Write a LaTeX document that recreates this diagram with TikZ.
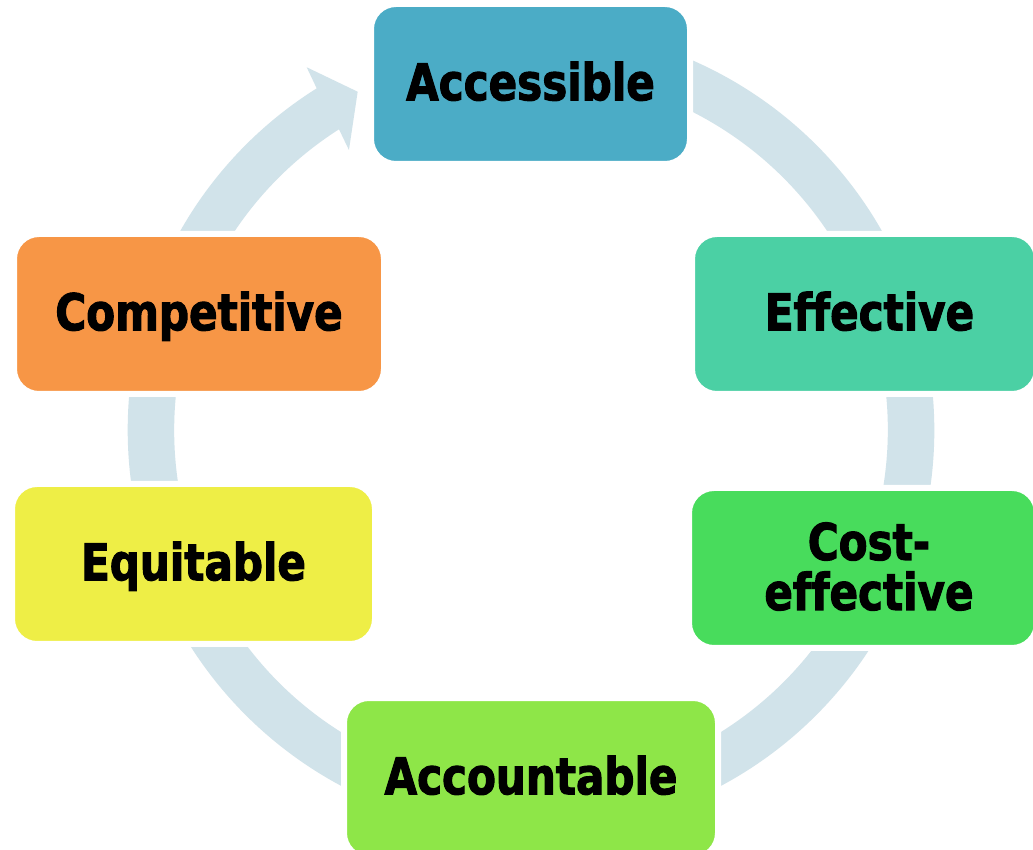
\documentclass[tikz,border=0pt]{standalone}
\usepackage{fontspec}
\newfontfamily\boxfont[FakeStretch=0.83,FakeBold=2,Ligatures=NoCommon]{DejaVu Sans}
\definecolor{ringc}{HTML}{D1E3EA}
\definecolor{cAcc}{HTML}{4BACC6}
\definecolor{cEff}{HTML}{4BD0A4}
\definecolor{cCost}{HTML}{48DC5C}
\definecolor{cAcct}{HTML}{8EE648}
\definecolor{cEqu}{HTML}{EEEE46}
\definecolor{cComp}{HTML}{F79646}
\begin{document}
\begin{tikzpicture}[x=1pt,y=1pt,
  box/.style={rounded corners=25pt, draw=white, line width=6pt, inner sep=0pt,
    minimum height=160pt,
    font={\boxfont\bfseries\fontsize{50.7pt}{50pt}\selectfont},
    text height=32.5pt, text depth=0pt, align=center}]
\useasboundingbox (0,0) rectangle (1033,849);
\fill[white] (0,0) rectangle (1033,849);
\begin{scope}[shift={(531,419)}]
\fill[ringc] (95:403.3pt) arc[start angle=95, end angle=-237.9, radius=403.3pt]
  -- (121.73:426.5pt) -- (117.13:380.1pt) -- (123.03:334pt)
  -- (-237.44:356.8pt) arc[start angle=-237.44, end angle=95, radius=356.8pt] -- cycle;
\end{scope}
\node[box, fill=cAcc, minimum width=319pt] (acc) at (530.5,765) {Accessible};
\node[box, fill=cEff, minimum width=345pt] (eff) at (864.5,535) {\hspace*{10pt}Effective};
\node[box, fill=cCost, minimum width=348pt, text height=84pt] (cost) at (863,281) {\hspace*{12pt}Cost-\\\hspace*{12pt}effective};
\node[box, fill=cAcct, minimum width=374pt] (acct) at (531,71) {Accountable};
\node[box, fill=cEqu, minimum width=363pt] (equ) at (193.5,285) {Equitable};
\node[box, fill=cComp, minimum width=370pt] (comp) at (199,535) {Competitive};
\end{tikzpicture}
\end{document}
